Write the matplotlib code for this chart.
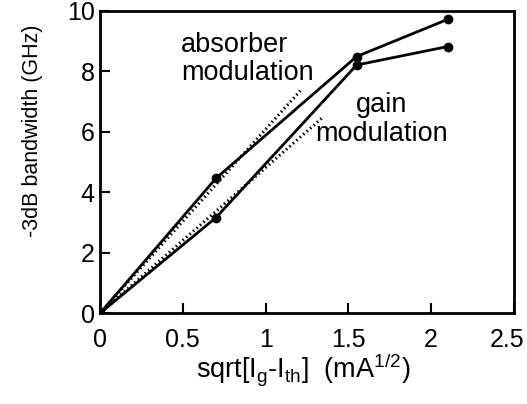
import matplotlib
matplotlib.use('Agg')
from matplotlib import pyplot as plt
from matplotlib.transforms import ScaledTranslation

plt.rcParams['font.family'] = ['Liberation Sans', 'DejaVu Sans']
plt.rcParams['mathtext.fontset'] = 'custom'
plt.rcParams['mathtext.rm'] = 'Liberation Sans'
plt.rcParams['mathtext.it'] = 'Liberation Sans'

# measured bandwidth vs sqrt(Ig - Ith)
absorber_x = [0, 0.70, 1.55, 2.10]
absorber_y = [0, 4.46, 8.49, 9.72]
gain_x = [0, 0.70, 1.55, 2.10]
gain_y = [0, 3.16, 8.21, 8.82]

# dotted linear fits
absorber_fit_x = [0, 1.21]
absorber_fit_y = [0, 7.36]
gain_fit_x = [0, 1.34]
gain_fit_y = [0, 6.45]

x_ticks = [0, 0.5, 1, 1.5, 2, 2.5]
x_tick_labels = ['0', '0.5', '1', '1.5', '2', '2.5']
y_ticks = [0, 2, 4, 6, 8, 10]

fig = plt.figure(figsize=(5.27, 4.04), dpi=100)
ax = fig.add_axes([0.19, 0.225, 0.785, 0.748])

ax.plot(absorber_fit_x, absorber_fit_y, color='black', linestyle=(0, (0.5, 1)), linewidth=2.2)
ax.plot(gain_fit_x, gain_fit_y, color='black', linestyle=(0, (0.5, 1)), linewidth=2.2)
ax.plot(absorber_x, absorber_y, color='black', linewidth=2, marker='o', markersize=6)
ax.plot(gain_x, gain_y, color='black', linewidth=2, marker='o', markersize=6)

ax.text(0.49, 9.3, 'absorber\nmodulation', fontsize=19.5, ha='left', va='top', linespacing=1.12)
ax.text(1.70, 7.3, 'gain\nmodulation', fontsize=19.5, ha='center', va='top', linespacing=1.12)

ax.set_xlim(0, 2.5)
ax.set_ylim(0, 10)
ax.set_xticks(x_ticks)
ax.set_xticklabels(x_tick_labels)
ax.set_yticks(y_ticks)
ax.tick_params(direction='in', length=7, width=1.5, labelsize=18,
               top=False, right=False)
ax.tick_params(axis='x', pad=11)
ax.tick_params(axis='y', pad=4)
for spine in ax.spines.values():
    spine.set_linewidth(2)

# last x label sits a little left of its tick in the original
last = ax.get_xticklabels()[-1]
last.set_transform(last.get_transform() + ScaledTranslation(-0.07, 0, fig.dpi_scale_trans))

ax.set_xlabel(r'sqrt[I$_{\rm g}$-I$_{\rm th}$]  (mA$^{1/2}$)', fontsize=19.5)
ax.xaxis.set_label_coords(0.49, -0.125)
ax.set_ylabel('-3dB bandwidth (GHz)', fontsize=15.5)
ax.yaxis.set_label_coords(-0.138, 0.605)

fig.savefig('out.png', dpi=100)
